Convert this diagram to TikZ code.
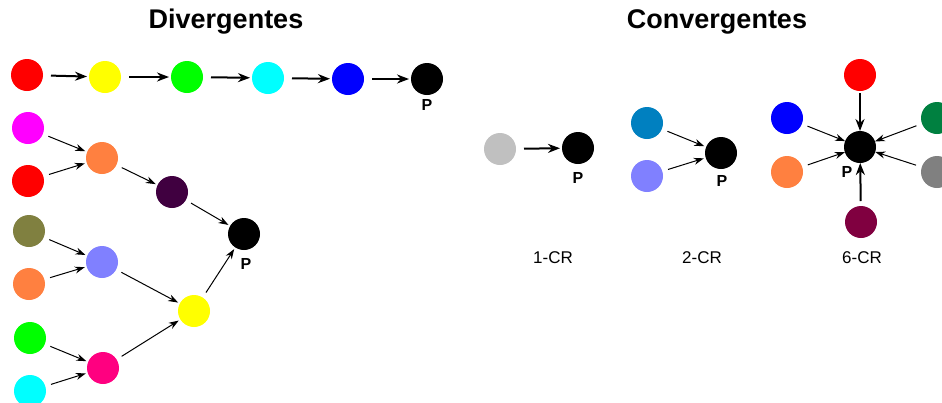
\documentclass[tikz,border=0pt]{standalone}
\usepackage{fontspec}
\setmainfont{Liberation Sans}
\usetikzlibrary{arrows.meta}
\definecolor{cRed}{HTML}{FF0000}
\definecolor{cYellow}{HTML}{FFFF00}
\definecolor{cGreen}{HTML}{00FF00}
\definecolor{cCyan}{HTML}{00FFFF}
\definecolor{cBlue}{HTML}{0000FF}
\definecolor{cMagenta}{HTML}{FF00FF}
\definecolor{cOrange}{HTML}{FF8040}
\definecolor{cPurple}{HTML}{400040}
\definecolor{cOlive}{HTML}{808040}
\definecolor{cLav}{HTML}{8080FF}
\definecolor{cPink}{HTML}{FF0080}
\definecolor{cSilver}{HTML}{C0C0C0}
\definecolor{cTeal}{HTML}{0080C0}
\definecolor{cDGreen}{HTML}{008040}
\definecolor{cGray}{HTML}{808080}
\definecolor{cMaroon}{HTML}{800040}
\tikzset{
  dot/.style={circle, fill=#1, minimum size=32pt, inner sep=0pt, outer sep=0pt},
  thinarr/.style={-{Stealth[length=10pt,width=7pt]}, line width=1pt, shorten <=6pt, shorten >=2pt},
  thickarr/.style={-{Stealth[length=12pt,width=9pt]}, line width=2pt, shorten <=8pt, shorten >=2pt},
  plabel/.style={font=\bfseries\fontsize{16}{16}\selectfont},
  title/.style={font=\bfseries\fontsize{27}{27}\selectfont},
  caption/.style={font=\fontsize{17}{17}\selectfont},
}
\begin{document}
\begin{tikzpicture}[x=1pt,y=-1pt]
\useasboundingbox (0,0) rectangle (942,402);
% titles
\node[title] (tdiv) at (226,22) {Divergentes};
\node[title] (tconv) at (717,22) {Convergentes};

% linear chain
\node[dot=cRed] (a1) at (27,75) {};
\node[dot=cYellow] (a2) at (105,77) {};
\node[dot=cGreen] (a3) at (187,77) {};
\node[dot=cCyan] (a4) at (268,78) {};
\node[dot=cBlue] (a5) at (348,79) {};
\node[dot=black] (a6) at (427,79) {};
\node[plabel] (pa) at (427,105) {P};
\foreach \i/\j in {a1/a2,a2/a3,a3/a4,a4/a5,a5/a6}
  \draw[thickarr] (\i) -- (\j);

% branching tree
\node[dot=cMagenta] (b1) at (28,128) {};
\node[dot=cRed] (b2) at (28,181) {};
\node[dot=cOlive] (b3) at (29,231) {};
\node[dot=cOrange] (b4) at (29,284) {};
\node[dot=cGreen] (b5) at (30,338) {};
\node[dot=cCyan] (b6) at (30,391) {};
\node[dot=cOrange] (c1) at (102,158) {};
\node[dot=cLav] (c2) at (102,262) {};
\node[dot=cPink] (c3) at (103,368) {};
\node[dot=cPurple] (d1) at (172,192) {};
\node[dot=cYellow] (d2) at (194,311) {};
\node[dot=black] (pb) at (244,234) {};
\node[plabel] (pbl) at (246,264) {P};
\foreach \i/\j in {b1/c1,b2/c1,b3/c2,b4/c2,b5/c3,b6/c3,c1/d1,c2/d2,c3/d2,d1/pb,d2/pb}
  \draw[thinarr] (\i) -- (\j);

% 1-CR
\node[dot=cSilver] (e1) at (500,149) {};
\node[dot=black] (pe) at (578,148) {};
\node[plabel] (pel) at (578,178) {P};
\draw[thickarr] (e1) -- (pe);
\node[caption] (l1) at (553,258) {1-CR};

% 2-CR
\node[dot=cTeal] (f1) at (647,123) {};
\node[dot=cLav] (f2) at (647,176) {};
\node[dot=black] (pf) at (721,153) {};
\node[plabel] (pfl) at (722,181) {P};
\draw[thinarr] (f1) -- (pf);
\draw[thinarr] (f2) -- (pf);
\node[caption] (l2) at (702,258) {2-CR};

% 6-CR
\node[dot=black] (pg) at (860,147) {};
\node[plabel] (pgl) at (847,172) {P};
\node[dot=cRed] (g1) at (860,75) {};
\node[dot=cBlue] (g2) at (787,118) {};
\node[dot=cOrange] (g3) at (787,172) {};
\node[dot=cMaroon] (g4) at (861,222) {};
\node[dot=cDGreen] (g5) at (937,118) {};
\node[dot=cGray] (g6) at (937,172) {};
\draw[thickarr, shorten <=2pt, shorten >=0pt] (g1) -- (pg);
\draw[thickarr, shorten <=5pt, shorten >=0pt] (g4) -- (pg);
\foreach \i in {g2,g3,g5,g6}
  \draw[thinarr, shorten >=0pt] (\i) -- (pg);
\node[caption] (l6) at (862,258) {6-CR};
\end{tikzpicture}
\end{document}
